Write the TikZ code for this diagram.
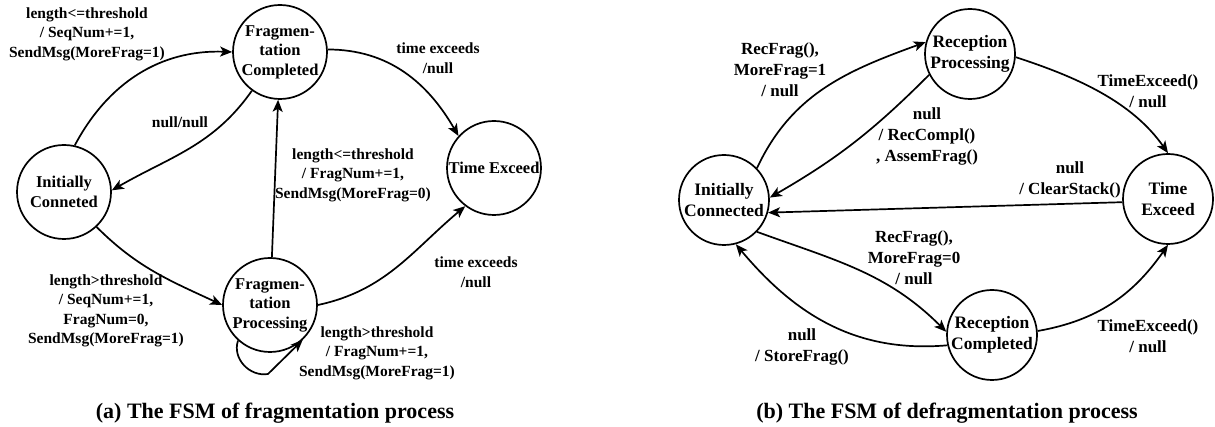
\documentclass[tikz,border=0pt]{standalone}
\usepackage{fontspec}
\setmainfont{Liberation Serif}[BoldFont={Liberation Serif Bold}]
\newfontfamily\lserifb{Liberation Serif Bold}
\usetikzlibrary{arrows.meta}
\begin{document}
\begin{tikzpicture}[x=1pt,y=1pt,
  st/.style={circle, draw, line width=1.7pt, minimum size=94pt, inner sep=0pt, align=center, font=\lserifb\fontsize{16.5}{19.5}\selectfont},
  stb/.style={st, minimum size=90pt, font=\lserifb\fontsize{17.5}{21}\selectfont},
  lab/.style={align=center, inner sep=0pt, font=\lserifb\fontsize{15.5}{19.5}\selectfont},
  labb/.style={lab, font=\lserifb\fontsize{17}{21}\selectfont},
  tr/.style={line width=1.7pt, -{Stealth[length=12pt,width=10pt,inset=3pt]}},
  captext/.style={anchor=base, inner sep=0pt, font=\lserifb\fontsize{22}{26}\selectfont}]
\useasboundingbox (0,0) rectangle (1215,427);
% ---------- (a) ----------
\node[st] (IC) at (64,235) {Initially\\Conneted};
\node[st] (FC) at (280,375) {Fragmen-\\tation\\Completed};
\node[st] (TE) at (494,259) {Time Exceed};
\node[st] (FP) at (270,122) {Fragmen-\\tation\\Processing};

\draw[tr] (IC.77) to[out=62, in=178] (FC.180);
\draw[tr] (FC.234) to[out=235, in=30] (IC.2);
\draw[tr] (FP) -- (FC);
\draw[tr] (FC.3) to[out=0, in=120] (TE.138);
\draw[tr] (FP.0) to[out=12, in=220] (TE.233);
\draw[tr] (IC.313) to[out=-45, in=155] (FP.180);
\coordinate (lb) at (268,53);
\draw[tr] (FP.228) .. controls (232,68) and (250,50) .. (lb) -- (FP.313);

\node[lab] (l1) at (87,393) {length<=threshold\\/ SeqNum+=1,\\SendMsg(MoreFrag=1)};
\node[lab] (l2) at (180,305) {null/null};
\node[lab] (l3) at (353,252) {length<=threshold\\/ FragNum+=1,\\SendMsg(MoreFrag=0)};
\node[lab] (l4) at (438,369) {time exceeds\\/null};
\node[lab] (l5) at (476,155) {time exceeds\\/null};
\node[lab] (l6) at (106,116) {length>threshold\\/ SeqNum+=1,\\FragNum=0,\\SendMsg(MoreFrag=1)};
\node[lab] (l7) at (377,74) {length>threshold\\/ FragNum+=1,\\SendMsg(MoreFrag=1)};

\node[captext] (ca) at (275,8) {(a) The FSM of fragmentation process};

% ---------- (b) ----------
\node[stb] (IC2) at (724,227) {Initially\\Connected};
\node[stb] (RP) at (970,373) {Reception\\Processing};
\node[stb] (TE2) at (1168,228) {Time\\Exceed};
\node[stb] (RC) at (992,92) {Reception\\Completed};

\draw[tr] (IC2.44) to[out=65, in=200] (RP.165);
\draw[tr] (RP.207) to[out=225, in=30] (IC2.3);
\draw[tr] (TE2.184) -- (IC2.-16);
\draw[tr] (RP.-4) to[out=-18, in=125, looseness=0.9] (TE2.90);
\draw[tr] (IC2.-44) to[out=-20, in=135] (RC.176);
\draw[tr] (RC.193) to[out=185, in=-50] (IC2.-75);
\draw[tr] (RC.5) to[out=10, in=235] (TE2.270);

\node[labb] (r1) at (780,357) {RecFrag(),\\MoreFrag=1\\/ null};
\node[labb] (r2) at (927,291) {null\\/ RecCompl()\\, AssemFrag()};
\node[labb] (r3) at (1070,247) {null\\/ ClearStack()};
\node[labb] (r4) at (1148,336) {TimeExceed()\\/ null};
\node[labb] (r5) at (914,169) {RecFrag(),\\MoreFrag=0\\/ null};
\node[labb] (r6) at (802,80) {null\\/ StoreFrag()};
\node[labb] (r7) at (1148,91) {TimeExceed()\\/ null};

\node[captext] (cb) at (947,8) {(b) The FSM of defragmentation process};
\end{tikzpicture}
\end{document}
